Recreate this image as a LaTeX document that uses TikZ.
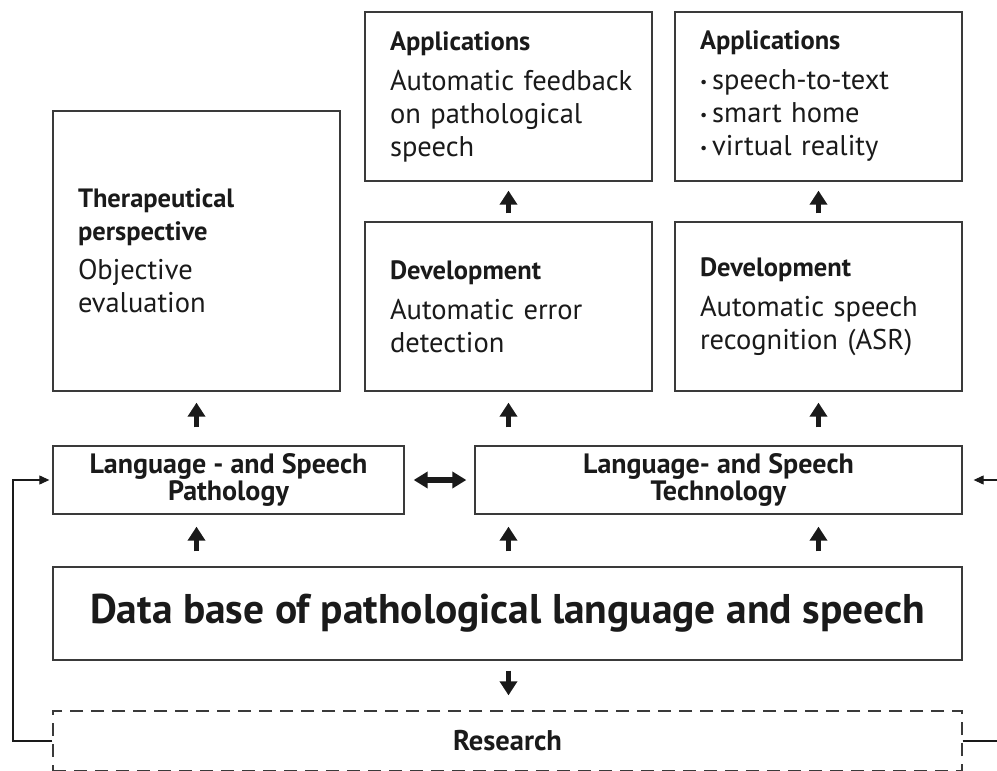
\documentclass[tikz,border=0pt]{standalone}
\usepackage{fontspec}
\setmainfont{PT Sans}
\usetikzlibrary{arrows.meta}
\definecolor{ink}{HTML}{1A1A1A}
\definecolor{edge}{HTML}{3A3A3A}
\begin{document}
\begin{tikzpicture}[x=1pt,y=-1pt]
\tikzset{
  box/.style={draw=edge, line width=1.3pt, inner xsep=25pt, inner ysep=0pt, align=left, text=ink,
    font=\fontsize{28.5}{33}\selectfont},
  midbox/.style={draw=edge, line width=1.3pt, inner sep=0pt, align=center, text=ink,
    font=\bfseries\fontsize{28}{27}\selectfont, minimum height=68pt},
  fat/.style={draw=ink, line width=5.5pt, -{Triangle[width=17pt,length=14pt]}},
  fatboth/.style={draw=ink, line width=5.5pt, {Triangle[width=16pt,length=14pt]}-{Triangle[width=16pt,length=14pt]}},
  fb/.style={draw=ink, line width=1.1pt, -{Triangle[width=9pt,length=10pt]}},
  fbline/.style={draw=ink, line width=1.1pt},
}
\useasboundingbox (0,0) rectangle (997,771);
\fill[white] (0,0) rectangle (997,771);

\newcommand{\bul}{{\fontsize{16}{16}\selectfont\raisebox{2pt}{•}}\hspace{5pt}}
\newcommand{\hd}[1]{{\bfseries\fontsize{26.5}{33}\selectfont #1}}

\node[box, text width=237pt, minimum height=280pt] (thera) at (196.5,251)
  {\hd{Therapeutical}\\ \hd{perspective}\\[6pt] Objective\\ evaluation};
\node[box, text width=237pt, minimum height=169pt] (app1) at (508.5,96.5)
  {\hd{Applications}\\[7pt] \mbox{Automatic feedback}\\ on pathological\\ speech};
\node[box, text width=237pt, minimum height=169pt] (app2) at (818.5,96.5)
  {\hd{Applications}\\[7pt] \bul speech-to-text\\ \bul smart home\\ \bul virtual reality};
\node[box, text width=237pt, minimum height=169pt] (dev1) at (508.5,306.5)
  {\hd{Development}\\[7pt] Automatic error\\ detection};
\node[box, text width=237pt, minimum height=169pt] (dev2) at (818.5,306.5)
  {\hd{Development}\\[7pt] \mbox{Automatic speech}\\ \mbox{recognition (ASR)}};

\node[midbox, minimum width=351pt] (path) at (228.5,480) {Language - and Speech\\ Pathology};
\node[midbox, minimum width=487pt] (tech) at (718.5,480) {Language- and Speech\\ Technology};

\node[draw=edge, line width=1.3pt, inner sep=0pt, minimum width=909pt, minimum height=93pt, text=ink,
  font=\bfseries\fontsize{41.5}{44}\selectfont] (db) at (507.5,613.5)
  {Data base of pathological language and speech};

\node[draw=edge, line width=1.3pt, dash pattern=on 13pt off 8pt, inner sep=0pt, minimum width=909pt,
  minimum height=60pt, text=ink, font=\bfseries\fontsize{28.5}{30}\selectfont] (research) at (507.5,741) {Research};

% vertical fat arrows
\draw[fat, shorten <=8pt, shorten >=9pt] (dev1.north) -- (app1.south);
\draw[fat, shorten <=8pt, shorten >=9pt] (dev2.north) -- (app2.south);
\draw[fat, shorten <=18pt, shorten >=11pt] (thera.south |- path.north) -- (thera.south);
\draw[fat, shorten <=18pt, shorten >=11pt] (dev1.south |- tech.north) -- (dev1.south);
\draw[fat, shorten <=18pt, shorten >=11pt] (dev2.south |- tech.north) -- (dev2.south);
\draw[fat, shorten <=15pt, shorten >=12pt] (thera.south |- db.north) -- (thera.south |- path.south);
\draw[fat, shorten <=15pt, shorten >=12pt] (dev1.south |- db.north) -- (dev1.south |- tech.south);
\draw[fat, shorten <=15pt, shorten >=12pt] (dev2.south |- db.north) -- (dev2.south |- tech.south);
\draw[fat, shorten <=10pt, shorten >=15pt] (dev1.south |- db.south) -- (dev1.south |- research.north);
\draw[fatboth, shorten <=9pt, shorten >=8pt] (path.east) -- (tech.west);

% feedback loops
\coordinate (lcorner) at (13,741);
\draw[fb, shorten >=3pt] (research.west) -- (lcorner) |- (path.west);
\coordinate (rcorner) at (1003,741);
\draw[fbline] (research.east) -- (rcorner);
\coordinate (rin) at (1003,480);
\draw[fb, shorten >=11pt] (rin) -- (tech.east);
\end{tikzpicture}
\end{document}
